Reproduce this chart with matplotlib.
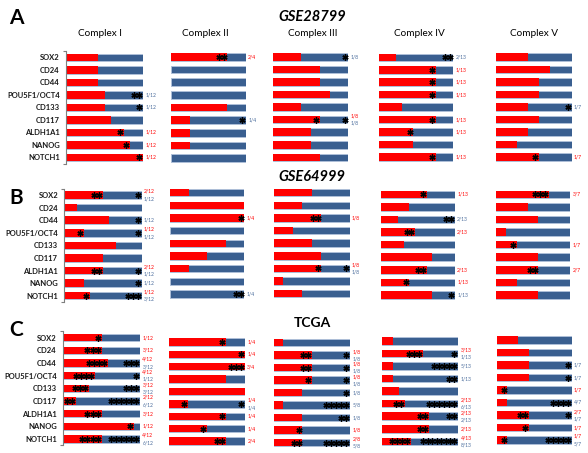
import matplotlib
matplotlib.use('Agg')
import matplotlib.pyplot as plt

genes = ['SOX2', 'CD24', 'CD44', 'POU5F1/OCT4', 'CD133', 'CD117', 'ALDH1A1', 'NANOG', 'NOTCH1']
complexes = ['Complex I', 'Complex II', 'Complex III', 'Complex IV', 'Complex V']
subunits = [12, 4, 8, 13, 7]
datasets = ['GSE28799', 'GSE64999', 'TCGA']
letters = ['A', 'B', 'C']

# number of subunits in the red part, per complex (rows follow genes)
red_A = [[5, 5, 5, 6, 6, 7, 9, 10, 12],
         [3, 0, 0, 0, 3, 1, 1, 1, 0],
         [3, 5, 5, 6, 3, 5, 4, 4, 5],
         [3, 10, 10, 10, 4, 10, 6, 6, 10],
         [3, 5, 4, 4, 3, 4, 3, 2, 4]]
red_B = [[6, 2, 7, 3, 8, 6, 6, 3, 4],
         [1, 4, 4, 0, 3, 2, 1, 0, 0],
         [4, 3, 5, 2, 4, 5, 5, 1, 3],
         [8, 5, 3, 6, 4, 9, 8, 5, 9],
         [5, 3, 4, 1, 2, 4, 4, 2, 4]]
red_C = [[6, 6, 7, 5, 4, 2, 6, 11, 6],
         [3, 4, 4, 3, 4, 1, 3, 2, 3],
         [1, 4, 4, 4, 3, 1, 3, 3, 3],
         [2, 7, 2, 2, 3, 4, 8, 8, 5],
         [2, 3, 3, 3, 1, 1, 3, 3, 1]]

# asterisks drawn in the red / blue part
rstar_A = [[0, 0, 0, 0, 0, 0, 1, 1, 1], [2, 0, 0, 0, 0, 0, 0, 0, 0], [0, 0, 0, 0, 0, 1, 0, 0, 0],
           [0, 1, 1, 1, 0, 1, 1, 0, 1], [0, 0, 0, 0, 0, 0, 0, 0, 1]]
bstar_A = [[0, 0, 0, 2, 1, 0, 0, 0, 0], [0, 0, 0, 0, 0, 1, 0, 0, 0], [1, 0, 0, 0, 0, 1, 0, 0, 0],
           [2, 0, 0, 0, 0, 0, 0, 0, 0], [0, 0, 0, 0, 1, 0, 0, 0, 0]]
rstar_B = [[2, 0, 0, 1, 0, 0, 2, 0, 1], [0, 0, 1, 0, 0, 0, 0, 0, 0], [0, 0, 2, 0, 0, 0, 1, 0, 0],
           [1, 0, 0, 2, 0, 0, 2, 1, 0], [3, 0, 0, 0, 1, 0, 2, 0, 0]]
bstar_B = [[1, 0, 1, 1, 0, 0, 1, 1, 3], [0, 0, 0, 0, 0, 0, 0, 0, 2], [0, 0, 0, 0, 0, 0, 1, 0, 0],
           [0, 0, 2, 0, 0, 0, 0, 0, 1], [0, 0, 0, 0, 0, 0, 0, 0, 0]]
rstar_C = [[1, 3, 4, 4, 3, 2, 3, 1, 4], [1, 1, 3, 0, 0, 1, 1, 1, 2], [0, 2, 2, 1, 0, 0, 0, 1, 2],
           [0, 3, 0, 0, 0, 2, 2, 2, 4], [0, 0, 0, 0, 1, 0, 2, 1, 1]]
bstar_C = [[0, 0, 3, 1, 3, 6, 0, 0, 6], [0, 0, 0, 0, 0, 1, 0, 0, 0], [0, 1, 1, 1, 1, 5, 2, 0, 5],
           [0, 1, 5, 2, 0, 6, 2, 0, 8], [0, 0, 1, 1, 0, 4, 1, 0, 5]]

# numerators of the small k/n labels (0 = no label)
rlab_A = [[0, 0, 0, 0, 0, 0, 1, 1, 1], [2, 0, 0, 0, 0, 0, 0, 0, 0], [0, 0, 0, 0, 0, 1, 0, 0, 0],
          [0, 1, 1, 1, 0, 1, 1, 0, 1], [0, 0, 0, 0, 0, 0, 0, 0, 1]]
blab_A = [[0, 0, 0, 1, 1, 0, 0, 0, 0], [0, 0, 0, 0, 0, 1, 0, 0, 0], [1, 0, 0, 0, 0, 1, 0, 0, 0],
          [2, 0, 0, 0, 0, 0, 0, 0, 0], [0, 0, 0, 0, 1, 0, 0, 0, 0]]
rlab_B = [[2, 0, 0, 1, 0, 0, 2, 0, 1], [0, 0, 1, 0, 0, 0, 0, 0, 0], [0, 0, 1, 0, 0, 0, 1, 0, 0],
          [1, 0, 0, 2, 0, 0, 2, 1, 0], [3, 0, 0, 0, 1, 0, 2, 0, 0]]
blab_B = [[1, 0, 1, 1, 0, 0, 1, 1, 3], [0, 0, 0, 0, 0, 0, 0, 0, 1], [0, 0, 0, 0, 0, 0, 1, 0, 0],
          [0, 0, 2, 0, 0, 0, 0, 0, 1], [0, 0, 0, 0, 0, 0, 0, 0, 0]]
rlab_C = [[1, 3, 4, 4, 3, 2, 3, 1, 4], [1, 1, 3, 0, 0, 1, 1, 1, 2], [0, 1, 1, 1, 0, 0, 0, 1, 2],
          [0, 3, 0, 0, 0, 2, 2, 2, 4], [0, 0, 0, 0, 1, 0, 2, 1, 1]]
blab_C = [[0, 0, 3, 1, 3, 6, 0, 0, 6], [0, 0, 0, 0, 0, 1, 0, 0, 0], [0, 1, 1, 1, 1, 5, 1, 0, 5],
          [0, 1, 5, 1, 0, 6, 2, 0, 8], [0, 0, 1, 1, 0, 4, 1, 0, 5]]

RED = '#ff0000'
BLUE = '#3a5f90'
EDGE = '#aebfd8'
W, H = 588, 453

# pixel box of every small chart: x left, x right, y of first row, y of last row
boxes = [
    [(66, 143, 57.3, 157.5), (171, 246, 57, 158), (273.3, 348.3, 57, 157.3), (379, 453.3, 57.3, 157), (495.7, 571.7, 57, 157)],
    [(64.3, 141.7, 195, 295.7), (170, 244.3, 192.7, 294), (274, 349.7, 192.7, 293.7), (381, 455, 194.3, 295), (495.7, 570.3, 194.3, 295)],
    [(63, 140, 337.7, 439), (169, 245, 342, 441), (273.7, 350.3, 342.7, 442.7), (381.7, 458.3, 341, 441.3), (496.7, 571.7, 340, 440)],
]
title_y = [(17.5, 17, 33), (197.5, 177, None), (330.5, 323, None)]
col_x = [100, 205.5, 313, 419, 534]

plt.rcParams['font.family'] = ['Lato', 'DejaVu Sans']
fig = plt.figure(figsize=(W / 100, H / 100), dpi=100)


def px(x, y):
    return x / W, 1 - y / H


def draw_block(ax, n, reds, rst, bst, rl, bl, first):
    rows = list(range(len(genes)))
    frac = [r / n for r in reds]
    ax.barh(rows, [1] * len(rows), height=0.6, color=BLUE, edgecolor=EDGE, linewidth=0.7)
    ax.barh(rows, frac, height=0.6, color=RED, linewidth=0)
    step = 0.066
    for i in rows:
        if rst[i]:
            xs = [frac[i] - 0.05 - k * step for k in range(rst[i])]
            ax.plot(xs, [i] * len(xs), ls='', marker=(6, 2, 0), ms=4.4, mew=1.0, color='k')
        if bst[i]:
            st = step if bst[i] < 7 else 0.058
            xs = [1 - 0.05 - k * st for k in range(bst[i])]
            ax.plot(xs, [i] * len(xs), ls='', marker=(6, 2, 0), ms=4.4, mew=1.0, color='k')
        both = rl[i] and bl[i]
        if rl[i]:
            ax.text(1.03, i - 0.28 if both else i, '%d/%d' % (rl[i], n), color=RED,
                    fontsize=3.6, ha='left', va='center', clip_on=False)
        if bl[i]:
            ax.text(1.03, i + 0.3 if both else i, '%d/%d' % (bl[i], n), color='#4a6c9c',
                    fontsize=3.6, ha='left', va='center', clip_on=False)
    ax.set_xlim(0, 1)
    ax.set_ylim(8.5, -0.5)
    ax.set_xticks([])
    for s in ['top', 'right', 'bottom']:
        ax.spines[s].set_visible(False)
    if first:
        ax.spines['left'].set_color('#7f7f7f')
        ax.spines['left'].set_linewidth(0.8)
        ax.set_yticks(rows, genes, fontsize=5.5, fontweight='bold', color='#1a1a1a')
        ax.tick_params(axis='y', length=0, pad=4.5)
        ax.set_yticks([-0.5, 8.5], minor=True)
        ax.tick_params(axis='y', which='minor', length=2, color='#7f7f7f', width=0.8)
    else:
        ax.spines['left'].set_visible(False)
        ax.set_yticks([])
    ax.patch.set_alpha(0)


panels = [(red_A, rstar_A, bstar_A, rlab_A, blab_A),
          (red_B, rstar_B, bstar_B, rlab_B, blab_B),
          (red_C, rstar_C, bstar_C, rlab_C, blab_C)]

for p, (reds, rst, bst, rl, bl) in enumerate(panels):
    for c in range(len(complexes)):
        x0, x1, yt, yb = boxes[p][c]
        s = (yb - yt) / 8
        l, b = px(x0, yb + s / 2)
        ax = fig.add_axes([l, b, (x1 - x0) / W, (yb - yt + s) / H])
        draw_block(ax, subunits[c], reds[c], rst[c], bst[c], rl[c], bl[c], c == 0)

    ly, dy, cy = title_y[p]
    fig.text(*px(16, ly), letters[p], fontsize=15, fontweight='bold', ha='center', va='center')
    fig.text(*px(312, dy), datasets[p], fontsize=10.5 if p < 2 else 10, fontweight='bold',
             fontstyle='italic' if p < 2 else 'normal', ha='center', va='center')
    if cy:
        for c in range(len(complexes)):
            fig.text(*px(col_x[c], cy), complexes[c], fontsize=7.2, ha='center', va='center')

fig.savefig('out.png', dpi=100)
